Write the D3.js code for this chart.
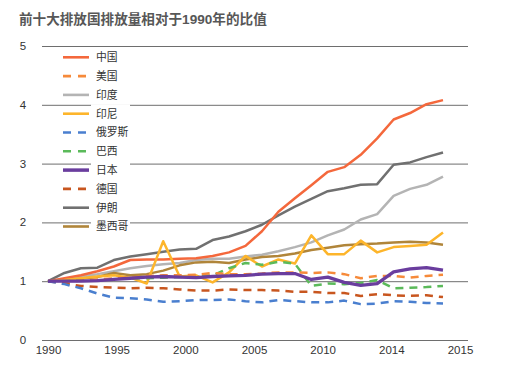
<!DOCTYPE html>
<html><head><meta charset="utf-8">
<script src="https://cdn.jsdelivr.net/npm/d3@7"></script>
<style>
body{margin:0;background:#fff;}
text{font-family:"Liberation Sans","Noto Sans CJK SC",sans-serif;}
</style></head>
<body><svg id="c" width="520" height="368"></svg>
<script>
const title = "前十大排放国排放量相对于1990年的比值";
const years = d3.range(1990, 2015);
const xTickLabels = ["1990","1995","2000","2005","2010","2014","2015"];
const yTicks = [0,1,2,3,4,5];
const seriesNames = ["中国","美国","印度","印尼","俄罗斯","巴西","日本","德国","伊朗","墨西哥"];
const seriesColors = ["#f4683c","#f68a3a","#b4b4b4","#fdb52b","#4a7fcf","#5bba5a","#6a3d9e","#c8561f","#707070","#b0853a"];
const seriesDashed = [false,true,false,false,true,true,false,true,false,false];
const china   = [1.00,1.05,1.10,1.17,1.25,1.36,1.37,1.37,1.38,1.39,1.43,1.49,1.60,1.85,2.18,2.41,2.63,2.86,2.94,3.15,3.43,3.75,3.86,4.01,4.08];
const usa     = [1.00,0.99,1.01,1.03,1.05,1.06,1.09,1.10,1.10,1.11,1.14,1.12,1.12,1.13,1.15,1.15,1.14,1.15,1.12,1.05,1.09,1.09,1.06,1.09,1.11];
const india   = [1.00,1.03,1.08,1.12,1.17,1.22,1.26,1.29,1.31,1.36,1.38,1.38,1.42,1.45,1.51,1.58,1.66,1.78,1.88,2.05,2.14,2.45,2.57,2.64,2.78];
const indonesia=[1.00,1.02,1.05,1.08,1.10,1.06,0.96,1.68,1.08,1.10,0.98,1.15,1.43,1.25,1.37,1.30,1.78,1.46,1.46,1.69,1.49,1.58,1.60,1.62,1.83];
const russia  = [1.00,0.95,0.88,0.79,0.72,0.71,0.69,0.65,0.66,0.68,0.68,0.69,0.66,0.64,0.68,0.66,0.64,0.64,0.67,0.61,0.62,0.66,0.65,0.63,0.62];
const brazil  = [1.00,1.00,1.01,1.02,1.04,1.05,1.05,1.06,1.07,1.08,1.10,1.22,1.31,1.28,1.33,1.30,0.92,0.96,0.95,0.97,1.02,0.88,0.89,0.90,0.92];
const japan   = [1.00,1.00,1.00,1.01,1.03,1.05,1.07,1.08,1.07,1.06,1.08,1.09,1.10,1.12,1.13,1.13,1.03,1.07,0.98,0.93,0.96,1.16,1.21,1.23,1.19];
const germany = [1.00,0.96,0.92,0.90,0.89,0.88,0.89,0.88,0.86,0.84,0.84,0.86,0.85,0.85,0.84,0.82,0.82,0.80,0.80,0.75,0.78,0.76,0.75,0.76,0.73];
const iran    = [1.00,1.14,1.22,1.23,1.36,1.42,1.46,1.50,1.54,1.55,1.70,1.76,1.85,1.96,2.12,2.27,2.40,2.53,2.58,2.64,2.65,2.98,3.02,3.11,3.19];
const mexico  = [1.00,1.02,1.04,1.07,1.14,1.10,1.12,1.18,1.27,1.32,1.33,1.31,1.37,1.41,1.43,1.47,1.53,1.57,1.61,1.63,1.64,1.66,1.67,1.66,1.62];
const seriesValues = [china,usa,india,indonesia,russia,brazil,japan,germany,iran,mexico];

const svg = d3.select("#c");
const x = d3.scaleLinear().domain([1990,2014]).range([48,443]);
const xAxisScale = d3.scalePoint().domain(xTickLabels).range([48,460]);
const y = d3.scaleLinear().domain([0,5]).range([340,46]);

svg.append("text").attr("x",19).attr("y",24).attr("fill","#575757")
  .attr("font-size","13.6px").attr("font-weight","bold").text(title);

// gridlines
svg.append("g").selectAll("line").data(yTicks).join("line")
  .attr("x1",42).attr("x2",468).attr("y1",d=>y(d)+0.5).attr("y2",d=>y(d)+0.5)
  .attr("stroke","#6e6e6e").attr("stroke-width",1);
svg.append("g").selectAll("text").data(yTicks).join("text")
  .attr("x",23).attr("y",d=>y(d)).attr("dy","0.35em").attr("text-anchor","middle")
  .attr("font-size","11.5px").attr("fill","#333").text(d=>d);

const xa = svg.append("g").attr("transform","translate(0,341)")
  .call(d3.axisBottom(xAxisScale).tickSize(0).tickPadding(5));
xa.select(".domain").remove();
xa.selectAll("text").attr("font-size","11.5px").attr("fill","#333")
  .attr("font-family","\"Liberation Sans\",sans-serif");

// legend
const lg = svg.append("g");
const rowY = i => 57.3 + i*18.8;
seriesNames.forEach((n,i)=>{
  lg.append("rect").attr("x",91).attr("y",rowY(i)-9.4).attr("width",39).attr("height",18.8).attr("fill","#fff");
  lg.append("line").attr("x1",63).attr("x2",89).attr("y1",rowY(i)).attr("y2",rowY(i))
    .attr("stroke",seriesColors[i]).attr("stroke-width",i===6?3.5:2.6)
    .attr("stroke-dasharray",seriesDashed[i]?"8,7":null);
  lg.append("text").attr("x",96).attr("y",rowY(i)).attr("dy","0.36em")
    .attr("font-size","10.8px").attr("fill","#333").text(n);
});

// lines
const line = d3.line().x((d,i)=>x(years[i])).y(d=>y(d));
const order = [2,9,8,0,3,5,1,7,4,6];
order.forEach(i=>{
  svg.append("path").datum(seriesValues[i]).attr("d",line)
    .attr("fill","none").attr("stroke",seriesColors[i])
    .attr("stroke-width",i===6?3.3:2.5).attr("stroke-linejoin","round")
    .attr("stroke-dasharray",seriesDashed[i]?"8,6":null);
});
</script></body></html>
